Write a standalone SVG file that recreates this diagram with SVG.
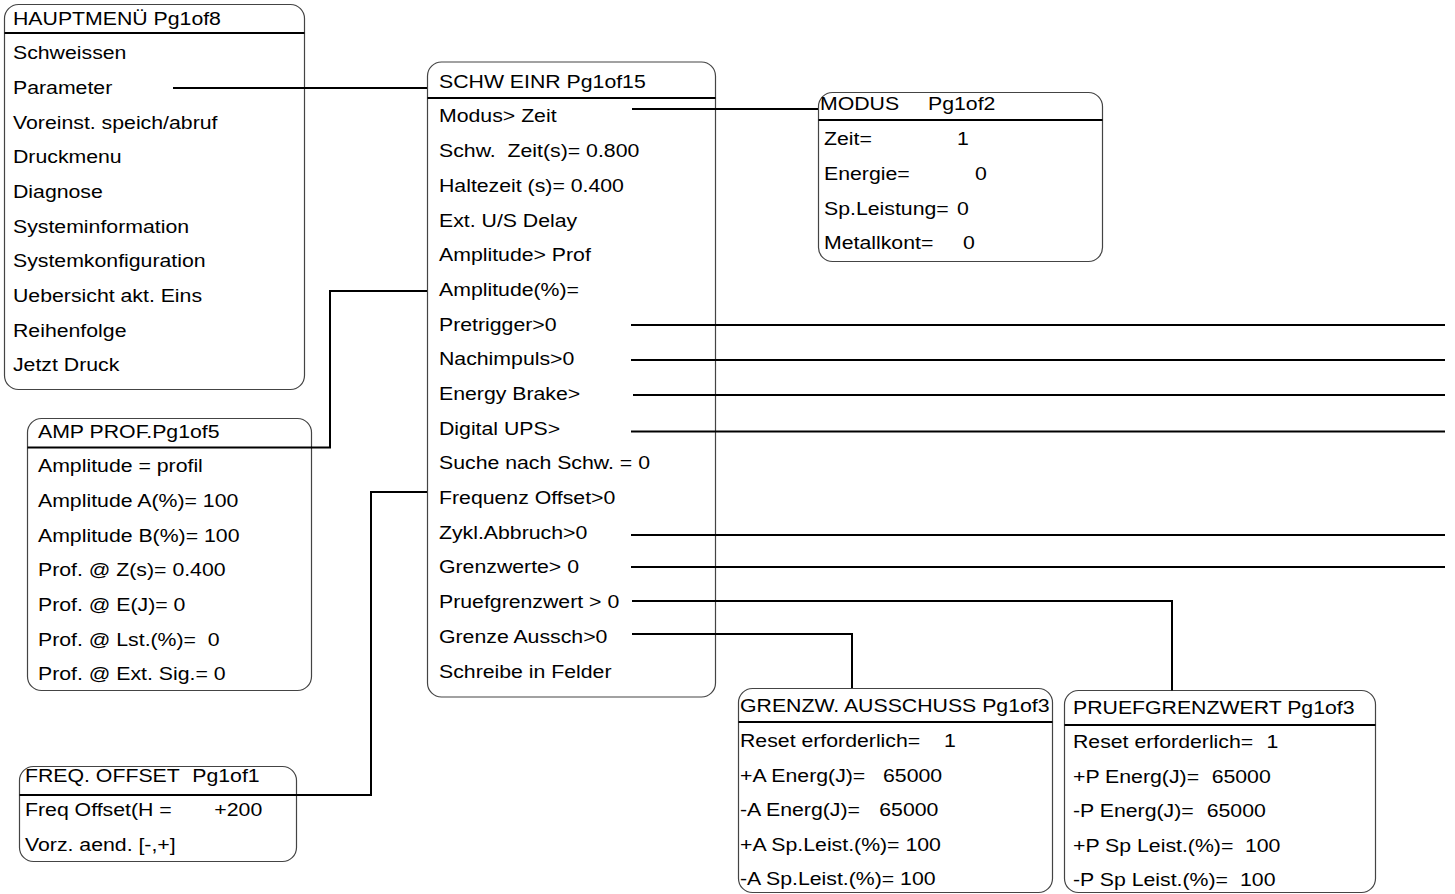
<svg xmlns="http://www.w3.org/2000/svg" width="1455" height="894" viewBox="0 0 1455 894">
<style>
  .box { fill: #ffffff; stroke: #444444; stroke-width: 1.2; }
  .sep { stroke: #000000; stroke-width: 2; }
  .conn { fill: none; stroke: #000000; stroke-width: 2; }
  text { font-family: "Liberation Sans", Arial, sans-serif; font-size: 18.5px; fill: #000000; white-space: pre; }
</style>
<rect width="1455" height="894" fill="#ffffff"/>

<g id="hauptmenu">
  <rect class="box" x="4.5" y="4.5" width="300" height="385" rx="14"/>
  <line class="sep" x1="4.5" y1="33" x2="304.5" y2="33"/>
  <g transform="scale(1.15 1)">
    <text x="11.3" y="25">HAUPTMENÜ Pg1of8</text>
    <text x="11.3" y="59.5">Schweissen</text>
    <text x="11.3" y="94.2">Parameter</text>
    <text x="11.3" y="128.8">Voreinst. speich/abruf</text>
    <text x="11.3" y="163.5">Druckmenu</text>
    <text x="11.3" y="198.2">Diagnose</text>
    <text x="11.3" y="232.8">Systeminformation</text>
    <text x="11.3" y="267.5">Systemkonfiguration</text>
    <text x="11.3" y="302.2">Uebersicht akt. Eins</text>
    <text x="11.3" y="336.8">Reihenfolge</text>
    <text x="11.3" y="371.5">Jetzt Druck</text>
  </g>
</g>

<g id="schw-einr">
  <rect class="box" x="427.5" y="62" width="288" height="635" rx="14"/>
  <line class="sep" x1="427.5" y1="98" x2="715.5" y2="98"/>
  <g transform="scale(1.15 1)">
    <text x="381.74" y="88">SCHW EINR Pg1of15</text>
    <text x="381.74" y="122.5">Modus&gt; Zeit</text>
    <text x="381.74" y="157.2">Schw.  Zeit(s)= 0.800</text>
    <text x="381.74" y="191.9">Haltezeit (s)= 0.400</text>
    <text x="381.74" y="226.6">Ext. U/S Delay</text>
    <text x="381.74" y="261.3">Amplitude&gt; Prof</text>
    <text x="381.74" y="296">Amplitude(%)=</text>
    <text x="381.74" y="330.7">Pretrigger&gt;0</text>
    <text x="381.74" y="365.4">Nachimpuls&gt;0</text>
    <text x="381.74" y="400">Energy Brake&gt;</text>
    <text x="381.74" y="434.7">Digital UPS&gt;</text>
    <text x="381.74" y="469.4">Suche nach Schw. = 0</text>
    <text x="381.74" y="504.1">Frequenz Offset&gt;0</text>
    <text x="381.74" y="538.8">Zykl.Abbruch&gt;0</text>
    <text x="381.74" y="573.5">Grenzwerte&gt; 0</text>
    <text x="381.74" y="608.2">Pruefgrenzwert &gt; 0</text>
    <text x="381.74" y="642.9">Grenze Aussch&gt;0</text>
    <text x="381.74" y="677.6">Schreibe in Felder</text>
  </g>
</g>

<g id="modus">
  <rect class="box" x="818.5" y="92.5" width="284" height="169" rx="14"/>
  <line class="sep" x1="818.5" y1="120" x2="1102.5" y2="120"/>
  <g transform="scale(1.15 1)">
    <text x="713.04" y="110">MODUS<tspan x="806.96">Pg1of2</tspan></text>
    <text x="716.52" y="145.5">Zeit=<tspan x="832.17">1</tspan></text>
    <text x="716.52" y="180.2">Energie=<tspan x="847.83">0</tspan></text>
    <text x="716.52" y="214.8">Sp.Leistung=<tspan x="832.17">0</tspan></text>
    <text x="716.52" y="249.5">Metallkont=<tspan x="837.39">0</tspan></text>
  </g>
</g>

<g id="amp-prof">
  <rect class="box" x="27.5" y="418.5" width="284" height="272" rx="14"/>
  <line class="sep" x1="27.5" y1="447.5" x2="311.5" y2="447.5"/>
  <g transform="scale(1.15 1)">
    <text x="33.04" y="438">AMP PROF.Pg1of5</text>
    <text x="33.04" y="472.5">Amplitude = profil</text>
    <text x="33.04" y="507.2">Amplitude A(%)= 100</text>
    <text x="33.04" y="541.8">Amplitude B(%)= 100</text>
    <text x="33.04" y="576.5">Prof. @ Z(s)= 0.400</text>
    <text x="33.04" y="611.2">Prof. @ E(J)= 0</text>
    <text x="33.04" y="645.8">Prof. @ Lst.(%)=  0</text>
    <text x="33.04" y="680.5">Prof. @ Ext. Sig.= 0</text>
  </g>
</g>

<g id="freq-offset">
  <rect class="box" x="19.5" y="766.5" width="277" height="95" rx="14"/>
  <line class="sep" x1="19.5" y1="795" x2="296.5" y2="795"/>
  <g transform="scale(1.15 1)">
    <text x="21.74" y="782">FREQ. OFFSET<tspan x="167.2">Pg1of1</tspan></text>
    <text x="21.74" y="816.5">Freq Offset(H =<tspan x="186.4">+200</tspan></text>
    <text x="21.74" y="851.2">Vorz. aend. [-,+]</text>
  </g>
</g>

<g id="grenzw-ausschuss">
  <rect class="box" x="738.5" y="688.5" width="314" height="204" rx="14"/>
  <line class="sep" x1="738.5" y1="722" x2="1052.5" y2="722"/>
  <g transform="scale(1.15 1)">
    <text x="643.48" y="712">GRENZW. AUSSCHUSS Pg1of3</text>
    <text x="643.48" y="747.5">Reset erforderlich=<tspan x="820.87">1</tspan></text>
    <text x="643.48" y="782">+A Energ(J)=<tspan x="767.83">65000</tspan></text>
    <text x="643.48" y="816.5">-A Energ(J)=<tspan x="764.6">65000</tspan></text>
    <text x="643.48" y="851">+A Sp.Leist.(%)= 100</text>
    <text x="643.48" y="885.5">-A Sp.Leist.(%)= 100</text>
  </g>
</g>

<g id="pruefgrenzwert">
  <rect class="box" x="1064.5" y="690.5" width="311" height="202" rx="14"/>
  <line class="sep" x1="1064.5" y1="725" x2="1375.5" y2="725"/>
  <g transform="scale(1.15 1)">
    <text x="933.04" y="714">PRUEFGRENZWERT Pg1of3</text>
    <text x="933.04" y="748.5">Reset erforderlich=<tspan x="1101.4">1</tspan></text>
    <text x="933.04" y="783">+P Energ(J)=<tspan x="1053.6">65000</tspan></text>
    <text x="933.04" y="817.5">-P Energ(J)=<tspan x="1049.3">65000</tspan></text>
    <text x="933.04" y="852">+P Sp Leist.(%)=<tspan x="1082.6">100</tspan></text>
    <text x="933.04" y="886.5">-P Sp Leist.(%)=<tspan x="1078.3">100</tspan></text>
  </g>
</g>

<g id="connectors">
  <path class="conn" d="M173 88 H427"/>
  <path class="conn" d="M632 109 H818"/>
  <path class="conn" d="M427 291 H330 V447.5 H311"/>
  <path class="conn" d="M427 492 H371 V795 H296"/>
  <path class="conn" d="M631 325 H1445"/>
  <path class="conn" d="M631 360 H1445"/>
  <path class="conn" d="M633 395 H1445"/>
  <path class="conn" d="M631 431.5 H1445"/>
  <path class="conn" d="M631 535 H1445"/>
  <path class="conn" d="M631 567 H1445"/>
  <path class="conn" d="M632 601 H1172 V690.5"/>
  <path class="conn" d="M632 634 H852 V688"/>
</g>
</svg>
